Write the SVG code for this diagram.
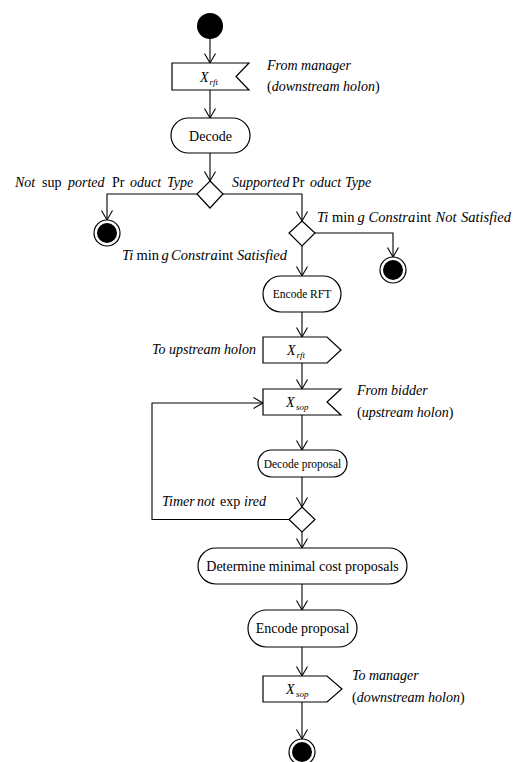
<svg xmlns="http://www.w3.org/2000/svg" width="517" height="762" viewBox="0 0 517 762" font-family="'Liberation Serif', 'DejaVu Serif', serif">
<style>
.s{fill:#fff;stroke:#000;stroke-width:1.2}
.c{fill:none;stroke:#000;stroke-width:1.1}
text{font-family:'Liberation Serif','DejaVu Serif',serif;font-size:14px;fill:#000}
.i{font-style:italic}
.u{font-style:normal}
.sm{font-size:11.5px}
.lg{font-size:14.5px}
.sub{font-size:9px;font-style:italic}
</style>
<defs>
<marker id="a" markerWidth="12" markerHeight="12" refX="10" refY="6" orient="auto" markerUnits="userSpaceOnUse">
<path d="M0.5,0.5 L10,6 L0.5,11.5" fill="none" stroke="#000" stroke-width="1.1"/>
</marker>
</defs>
<rect width="517" height="762" fill="#fff"/>
<g id="connectors">
<path class="c" d="M210,39 V63" marker-end="url(#a)"/>
<path class="c" d="M210,90 V118" marker-end="url(#a)"/>
<path class="c" d="M210,153 V181" marker-end="url(#a)"/>
<path class="c" d="M197,194 H107 V220" marker-end="url(#a)"/>
<path class="c" d="M223,194 H302 V221" marker-end="url(#a)"/>
<path class="c" d="M315,233 H393 V257" marker-end="url(#a)"/>
<path class="c" d="M302,246 V276" marker-end="url(#a)"/>
<path class="c" d="M302,312 V337" marker-end="url(#a)"/>
<path class="c" d="M302,363 V389" marker-end="url(#a)" stroke-width="1.6"/>
<path class="c" d="M302,415 V450" marker-end="url(#a)"/>
<path class="c" d="M302,477 V507" marker-end="url(#a)"/>
<path class="c" d="M289,519.5 H152 V403 H263" marker-end="url(#a)"/>
<path class="c" d="M302,532 V548" marker-end="url(#a)"/>
<path class="c" d="M302,584 V610" marker-end="url(#a)"/>
<path class="c" d="M302,647 V676" marker-end="url(#a)"/>
<path class="c" d="M302,702 V739" marker-end="url(#a)"/>
</g>
<g id="start"><circle cx="210" cy="26" r="13" fill="#000"/></g>
<g id="recv_rft">
<polygon class="s" points="172,63 249,63 236,76.5 249,90 172,90"/>
<text class="i" x="200" y="82">X<tspan class="sub" dx="1" dy="3">rft</tspan></text>
<text class="i" x="267" y="70">From manager</text>
<text x="267" y="91"><tspan class="u">(</tspan><tspan class="i">downstream holon</tspan><tspan class="u">)</tspan></text>
</g>
<g id="decode">
<rect class="s" x="171" y="118" width="79" height="35" rx="17.5"/>
<text x="210.5" y="140.5" text-anchor="middle">Decode</text>
</g>
<g id="decision1">
<polygon class="s" points="210,181 223,194 210,208 197,194"/>
<text><tspan class="i" x="15" y="187">Not</tspan><tspan x="42" y="187">sup</tspan><tspan class="i" x="68" y="187">ported</tspan><tspan x="112" y="187">Pr</tspan><tspan class="i" x="130" y="187">oduct</tspan><tspan class="i" x="167" y="187">Type</tspan></text>
<text><tspan class="i" x="232" y="187">Supported</tspan><tspan x="292" y="187">Pr</tspan><tspan class="i" x="310" y="187">oduct</tspan><tspan class="i" x="345" y="187">Type</tspan></text>
</g>
<g id="final1">
<circle class="s" cx="107" cy="233" r="13"/>
<circle cx="107" cy="233" r="10" fill="#000"/>
</g>
<g id="decision2">
<polygon class="s" points="302,221 315,233 302,246 289,233"/>
<text class="lg"><tspan class="i" x="317" y="222">Ti</tspan><tspan x="332" y="222">min</tspan><tspan class="i" x="357.5" y="222">g</tspan><tspan class="i" x="368.5" y="222">Constra</tspan><tspan x="416" y="222">int</tspan><tspan class="i" x="435.5" y="222">Not</tspan><tspan class="i" x="461" y="222">Satisfied</tspan></text>
<text class="lg"><tspan class="i" x="122" y="260">Ti</tspan><tspan x="136.5" y="260">min</tspan><tspan class="i" x="161.5" y="260">g</tspan><tspan class="i" x="171" y="260">Constra</tspan><tspan x="218" y="260">int</tspan><tspan class="i" x="237" y="260">Satisfied</tspan></text>
</g>
<g id="final2">
<circle class="s" cx="393" cy="270" r="13"/>
<circle cx="393" cy="270" r="10" fill="#000"/>
</g>
<g id="encode_rft">
<rect class="s" x="263" y="276" width="78" height="36" rx="18"/>
<text class="sm" x="302" y="298" text-anchor="middle">Encode RFT</text>
</g>
<g id="send_rft">
<polygon class="s" points="263,337 327,337 341,350 327,363 263,363"/>
<text class="i" x="287" y="355">X<tspan class="sub" dx="1" dy="3">rft</tspan></text>
<text class="i" x="256" y="354" text-anchor="end">To upstream holon</text>
</g>
<g id="recv_sop">
<polygon class="s" points="263,389 341,389 327,402 341,415 263,415"/>
<text class="i" x="286" y="407">X<tspan class="sub" dx="1.5" dy="3">sop</tspan></text>
<text class="i" x="357" y="395">From bidder</text>
<text x="357" y="417"><tspan class="u">(</tspan><tspan class="i">upstream holon</tspan><tspan class="u">)</tspan></text>
</g>
<g id="decode_proposal">
<rect class="s" x="258" y="450" width="89" height="27" rx="13.5"/>
<text class="sm" x="302.5" y="467.5" text-anchor="middle">Decode proposal</text>
</g>
<g id="decision3">
<polygon class="s" points="302,507 315,519.5 302,532 289,519.5"/>
<text><tspan class="i" x="162" y="506">Timer</tspan><tspan class="i" x="197" y="506">not</tspan><tspan x="220" y="506">exp</tspan><tspan class="i" x="244" y="506">ired</tspan></text>
</g>
<g id="determine">
<rect class="s" x="198" y="548" width="209" height="36" rx="18"/>
<text x="302.5" y="571" text-anchor="middle">Determine minimal cost proposals</text>
</g>
<g id="encode_proposal">
<rect class="s" x="248" y="610" width="109" height="37" rx="18.5"/>
<text x="302.5" y="633" text-anchor="middle">Encode proposal</text>
</g>
<g id="send_sop">
<polygon class="s" points="263,676 327,676 342,689 327,702 263,702"/>
<text class="i" x="286" y="694">X<tspan class="sub" dx="1.5" dy="3">sop</tspan></text>
<text class="i" x="352" y="680">To manager</text>
<text x="352" y="702"><tspan class="u">(</tspan><tspan class="i">downstream holon</tspan><tspan class="u">)</tspan></text>
</g>
<g id="final3">
<circle class="s" cx="302" cy="752" r="13"/>
<circle cx="302" cy="752" r="10" fill="#000"/>
</g>
</svg>
